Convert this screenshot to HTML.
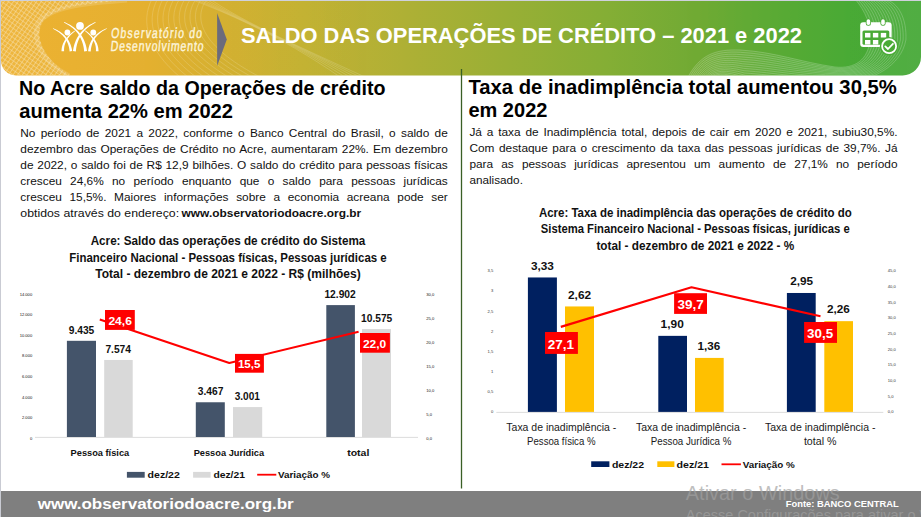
<!DOCTYPE html>
<html><head><meta charset="utf-8"><title>Saldo das operações de crédito</title>
<style>
html,body{margin:0;padding:0;background:#fff;overflow:hidden;}
body{width:921px;height:517px;position:relative;}
svg{position:absolute;left:0;top:0;display:block;}
text{font-family:"Liberation Sans",sans-serif;}
</style></head><body>
<svg width="921" height="517" viewBox="0 0 921 517">
<defs>
<linearGradient id="hg" x1="0" y1="0" x2="921" y2="0" gradientUnits="userSpaceOnUse">
<stop offset="0" stop-color="#eeb232"/>
<stop offset="0.16" stop-color="#e4b030"/>
<stop offset="0.33" stop-color="#c3b234"/>
<stop offset="0.44" stop-color="#aeb035"/>
<stop offset="0.66" stop-color="#84ae35"/>
<stop offset="0.76" stop-color="#70aa34"/>
<stop offset="0.81" stop-color="#62ab35"/>
<stop offset="0.86" stop-color="#56ab35"/>
<stop offset="0.92" stop-color="#4aaa36"/>
<stop offset="1" stop-color="#46a837"/>
</linearGradient>
<clipPath id="bclip"><path d="M1,1 H921 V57 A18.5,18.5 0 0 1 902.5,75.5 H16 A15,15 0 0 1 1,60.5 Z"/></clipPath>
<pattern id="mesh" width="3.8" height="3.8" patternUnits="userSpaceOnUse" patternTransform="rotate(35)">
<rect width="4" height="4" fill="none"/>
<path d="M0,0 H3.8 M0,0 V3.8" stroke="#fff" stroke-width="1.1" opacity="0.55"/>
</pattern>
</defs>
<rect x="0.00" y="0.00" width="921.00" height="1.00" fill="#cfd1dc"/>
<rect x="0.00" y="0.00" width="1.00" height="517.00" fill="#c9cbd3"/>
<g clip-path="url(#bclip)">
<rect x="1.00" y="1.00" width="920.00" height="75.00" fill="url(#hg)"/>
<path d="M0,0 H130 C90,3 58,6 44,20 C32,36 45,62 72,76 H0 Z" fill="url(#mesh)"/>
<path d="M0,0 H130 C90,3 58,6 44,20 C32,36 45,62 72,76 H0 Z" fill="#fff" opacity="0.06"/>
<path d="M130,0 C90,3 58,6 44,20 C32,36 45,62 72,76" fill="none" stroke="#fff" stroke-width="5" opacity="0.15" transform="translate(-3,0)"/>
<g fill="none" stroke="#fff" stroke-width="0.5" opacity="0.3"><path d="M152.0,-1 C140.0,22 148.0,50 180.0,77"/><path d="M157.5,-1 C145.0,22 154.0,50 188.0,77"/><path d="M163.0,-1 C150.0,22 160.0,50 196.0,77"/><path d="M168.5,-1 C155.0,22 166.0,50 204.0,77"/><path d="M174.0,-1 C160.0,22 172.0,50 212.0,77"/><path d="M179.5,-1 C165.0,22 178.0,50 220.0,77"/><path d="M185.0,-1 C170.0,22 184.0,50 228.0,77"/><path d="M190.5,-1 C175.0,22 190.0,50 236.0,77"/><path d="M196.0,-1 C180.0,22 196.0,50 244.0,77"/><path d="M201.5,-1 C185.0,22 202.0,50 252.0,77"/><path d="M207.0,-1 C190.0,22 208.0,50 260.0,77"/><path d="M190.0,-1 C220.0,10.0 280.0,35.0 340.0,77"/><path d="M194.0,-1 C224.0,12.0 283.0,37.0 345.0,77"/><path d="M198.0,-1 C228.0,14.0 286.0,39.0 350.0,77"/><path d="M202.0,-1 C232.0,16.0 289.0,41.0 355.0,77"/><path d="M206.0,-1 C236.0,18.0 292.0,43.0 360.0,77"/><path d="M210.0,-1 C240.0,20.0 295.0,45.0 365.0,77"/></g>
<path d="M688,77 C700,55 715,49 740,50 C775,52 800,62 835,67 C855,69 868,60 870,40 C871,25 866,12 855,-1 H922 V77 Z" fill="#fff" opacity="0.06"/>
<g fill="none" stroke="#fff" stroke-width="0.5" opacity="0.4"><path d="M688.0,77 C700.0,55.0 715.0,49.0 740.0,50.0 C775.0,52.0 800.0,62.0 835.0,67.0 C855.0,69.0 868.0,60.0 870.0,40.0 C871.0,25.0 866.0,12.0 855.0,-1"/><path d="M689.8,77 C701.4,56.4 715.9,50.8 740.5,52.3 C775.0,54.3 800.0,63.8 835.7,68.2 C856.4,69.9 870.5,60.5 872.8,40.0 C873.8,24.5 868.5,11.3 857.3,-1"/><path d="M691.7,77 C702.8,57.8 716.8,52.7 740.9,54.6 C775.0,56.6 800.0,65.7 836.4,69.3 C857.8,70.8 873.1,60.9 875.5,40.0 C876.5,24.1 871.1,10.6 859.6,-1"/><path d="M693.5,77 C704.1,59.1 717.8,54.5 741.4,56.9 C775.0,58.9 800.0,67.5 837.1,70.5 C859.1,71.8 875.6,61.4 878.3,40.0 C879.3,23.6 873.6,9.9 861.9,-1"/><path d="M695.4,77 C705.5,60.5 718.7,56.4 741.8,59.2 C775.0,61.2 800.0,69.4 837.8,71.6 C860.5,72.7 878.1,61.8 881.0,40.0 C882.0,23.2 876.1,9.2 864.2,-1"/><path d="M697.2,77 C706.9,61.9 719.6,58.2 742.3,61.5 C775.0,63.5 800.0,71.2 838.5,72.8 C861.9,73.6 880.6,62.3 883.8,40.0 C884.8,22.7 878.6,8.6 866.5,-1"/><path d="M699.0,77 C708.3,63.3 720.5,60.0 742.8,63.8 C775.0,65.8 800.0,73.0 839.1,73.9 C863.3,74.5 883.2,62.8 886.6,40.0 C887.6,22.2 881.2,7.9 868.8,-1"/><path d="M700.9,77 C709.7,64.7 721.4,61.9 743.2,66.1 C775.0,68.1 800.0,74.9 839.8,75.0 C864.7,75.4 885.7,63.2 889.3,40.0 C890.3,21.8 883.7,7.2 871.1,-1"/><path d="M702.7,77 C711.0,66.0 722.4,63.7 743.7,68.4 C775.0,70.4 800.0,76.7 840.5,76.2 C866.0,76.4 888.2,63.7 892.1,40.0 C893.1,21.3 886.2,6.5 873.4,-1"/><path d="M704.6,77 C712.4,67.4 723.3,65.6 744.1,70.7 C775.0,72.7 800.0,78.6 841.2,77.3 C867.4,77.3 890.8,64.1 894.8,40.0 C895.8,20.9 888.8,5.8 875.7,-1"/><path d="M706.4,77 C713.8,68.8 724.2,67.4 744.6,73.0 C775.0,75.0 800.0,80.4 841.9,78.5 C868.8,78.2 893.3,64.6 897.6,40.0 C898.6,20.4 891.3,5.1 878.0,-1"/><path d="M708.2,77 C715.2,70.2 725.1,69.2 745.1,75.3 C775.0,77.3 800.0,82.2 842.6,79.7 C870.2,79.1 895.8,65.1 900.4,40.0 C901.4,19.9 893.8,4.4 880.3,-1"/><path d="M710.1,77 C716.6,71.6 726.0,71.1 745.5,77.6 C775.0,79.6 800.0,84.1 843.3,80.8 C871.6,80.0 898.4,65.5 903.1,40.0 C904.1,19.5 896.4,3.7 882.6,-1"/><path d="M711.9,77 C717.9,72.9 727.0,72.9 746.0,79.9 C775.0,81.9 800.0,85.9 844.0,82.0 C872.9,81.0 900.9,66.0 905.9,40.0 C906.9,19.0 898.9,3.0 884.9,-1"/></g>
</g>
<polygon points="217.1,13 226.8,39.4 217.1,65.9" fill="#6b6b7c"/>
<g fill="#fff"><circle cx="80" cy="25.9" r="3.9"/><circle cx="67.4" cy="32.5" r="2.9"/><circle cx="93.3" cy="32.5" r="2.9"/></g>
<g fill="#fff"><path d="M52.87,28.77 L53.97,29.32 L55.04,29.90 L56.09,30.50 L57.12,31.13 L58.12,31.78 L59.09,32.47 L60.03,33.19 L60.93,33.95 L61.80,34.74 L62.64,35.56 L63.44,36.42 L64.20,37.31 L64.91,38.24 L65.58,39.22 L66.21,40.23 L66.79,41.29 L67.33,42.38 L67.81,43.53 L68.25,44.72 L68.63,45.96 L68.96,47.25 L69.23,48.59 L69.45,49.99 L69.61,51.48 L72.19,51.12 L71.94,49.59 L71.62,48.09 L71.23,46.66 L70.79,45.28 L70.30,43.96 L69.74,42.69 L69.14,41.49 L68.48,40.34 L67.78,39.24 L67.03,38.20 L66.24,37.21 L65.40,36.26 L64.54,35.37 L63.63,34.52 L62.69,33.72 L61.73,32.96 L60.73,32.24 L59.71,31.57 L58.66,30.93 L57.59,30.32 L56.50,29.75 L55.39,29.21 L54.26,28.70 L53.13,28.23Z"/><path d="M75.33,30.25 L74.32,30.92 L73.33,31.60 L72.38,32.30 L71.46,33.02 L70.57,33.76 L69.71,34.51 L68.89,35.28 L68.11,36.07 L67.37,36.88 L66.66,37.71 L65.99,38.55 L65.36,39.42 L64.78,40.31 L64.23,41.21 L63.74,42.14 L63.28,43.08 L62.88,44.05 L62.52,45.03 L62.22,46.04 L61.97,47.06 L61.77,48.10 L61.62,49.17 L61.53,50.25 L61.50,51.31 L64.10,51.29 L64.05,50.29 L64.05,49.34 L64.10,48.39 L64.20,47.46 L64.34,46.53 L64.54,45.61 L64.79,44.70 L65.08,43.80 L65.42,42.91 L65.80,42.02 L66.24,41.15 L66.71,40.28 L67.23,39.42 L67.80,38.58 L68.41,37.74 L69.06,36.91 L69.75,36.10 L70.48,35.30 L71.26,34.51 L72.07,33.73 L72.91,32.96 L73.80,32.21 L74.72,31.47 L75.67,30.75Z"/><path d="M63.88,22.57 L65.22,23.23 L66.53,23.92 L67.80,24.66 L69.05,25.44 L70.27,26.27 L71.45,27.14 L72.59,28.06 L73.69,29.03 L74.75,30.04 L75.76,31.10 L76.73,32.21 L77.64,33.37 L78.51,34.58 L79.32,35.84 L80.08,37.16 L80.79,38.52 L81.43,39.94 L82.02,41.41 L82.54,42.94 L83.00,44.52 L83.39,46.16 L83.72,47.87 L83.98,49.63 L84.16,51.48 L87.04,51.12 L86.75,49.21 L86.38,47.34 L85.93,45.54 L85.42,43.81 L84.83,42.14 L84.17,40.54 L83.46,39.00 L82.68,37.53 L81.84,36.12 L80.95,34.78 L80.00,33.50 L79.01,32.28 L77.96,31.12 L76.88,30.02 L75.75,28.97 L74.58,27.99 L73.37,27.06 L72.13,26.19 L70.86,25.37 L69.56,24.60 L68.24,23.88 L66.89,23.21 L65.51,22.59 L64.12,22.03Z"/><path d="M95.47,22.03 L94.13,22.60 L92.80,23.22 L91.49,23.88 L90.20,24.60 L88.93,25.37 L87.69,26.19 L86.48,27.06 L85.30,27.99 L84.15,28.98 L83.04,30.02 L81.97,31.12 L80.94,32.28 L79.96,33.50 L79.02,34.78 L78.14,36.13 L77.31,37.53 L76.53,39.01 L75.82,40.54 L75.17,42.14 L74.58,43.81 L74.07,45.54 L73.62,47.35 L73.25,49.21 L72.96,51.12 L75.84,51.48 L76.02,49.63 L76.28,47.86 L76.60,46.16 L77.00,44.52 L77.45,42.94 L77.98,41.41 L78.56,39.94 L79.20,38.52 L79.90,37.15 L80.65,35.84 L81.45,34.58 L82.31,33.37 L83.21,32.21 L84.17,31.10 L85.16,30.04 L86.20,29.02 L87.28,28.05 L88.39,27.13 L89.54,26.26 L90.72,25.43 L91.93,24.65 L93.17,23.92 L94.44,23.22 L95.73,22.57Z"/><path d="M106.67,28.23 L105.56,28.71 L104.45,29.21 L103.36,29.75 L102.29,30.32 L101.24,30.93 L100.21,31.57 L99.20,32.25 L98.22,32.97 L97.27,33.73 L96.35,34.53 L95.46,35.38 L94.60,36.27 L93.79,37.21 L93.01,38.21 L92.28,39.25 L91.60,40.35 L90.96,41.50 L90.38,42.71 L89.85,43.97 L89.37,45.30 L88.96,46.68 L88.61,48.12 L88.32,49.62 L88.11,51.15 L90.69,51.45 L90.82,49.96 L91.00,48.57 L91.25,47.23 L91.55,45.94 L91.90,44.70 L92.32,43.51 L92.78,42.37 L93.29,41.27 L93.86,40.22 L94.47,39.21 L95.12,38.24 L95.82,37.31 L96.56,36.41 L97.35,35.55 L98.17,34.73 L99.02,33.95 L99.91,33.19 L100.84,32.47 L101.79,31.78 L102.77,31.12 L103.78,30.49 L104.81,29.89 L105.86,29.32 L106.93,28.77Z"/><path d="M84.62,30.74 L85.54,31.47 L86.43,32.21 L87.28,32.96 L88.10,33.72 L88.89,34.50 L89.64,35.29 L90.35,36.09 L91.02,36.91 L91.66,37.73 L92.26,38.57 L92.81,39.42 L93.32,40.27 L93.79,41.14 L94.22,42.02 L94.60,42.90 L94.93,43.80 L95.22,44.70 L95.46,45.61 L95.66,46.53 L95.80,47.46 L95.90,48.39 L95.95,49.34 L95.95,50.29 L95.90,51.29 L98.50,51.31 L98.47,50.25 L98.38,49.17 L98.24,48.11 L98.04,47.06 L97.78,46.04 L97.48,45.03 L97.13,44.05 L96.73,43.08 L96.28,42.14 L95.79,41.22 L95.25,40.31 L94.68,39.43 L94.06,38.56 L93.41,37.71 L92.71,36.89 L91.98,36.08 L91.22,35.29 L90.42,34.52 L89.59,33.76 L88.72,33.03 L87.83,32.31 L86.91,31.61 L85.95,30.92 L84.98,30.26Z"/></g>
<g transform="translate(110.80,37.70) skewX(-6) scale(0.72,1) translate(-110.80,-37.70)">
<text x="110.80" y="37.70" font-size="14.6" fill="#fdf5dc" stroke="#fdf5dc" stroke-width="0.4" textLength="126.11" lengthAdjust="spacing">Observatório do</text>
</g>
<g transform="translate(110.20,50.80) skewX(-6) scale(0.72,1) translate(-110.20,-50.80)">
<text x="110.20" y="50.80" font-size="14.6" fill="#fdf5dc" stroke="#fdf5dc" stroke-width="0.4" textLength="129.17" lengthAdjust="spacing">Desenvolvimento</text>
</g>
<text x="241.00" y="43.40" font-size="22.50" fill="#fff" font-weight="bold" textLength="561.00" lengthAdjust="spacingAndGlyphs">SALDO DAS OPERAÇÕES DE CRÉDITO – 2021 e 2022</text>
<g><rect x="860.2" y="22.3" width="31.4" height="24.7" rx="3" fill="#fff"/><rect x="862.5" y="30.5" width="26.8" height="14.2" rx="1.5" fill="#4aaa36"/><rect x="865.8" y="18.4" width="5.2" height="7.4" rx="2.3" fill="#4aaa36"/><rect x="880.4" y="18.4" width="5.2" height="7.4" rx="2.3" fill="#4aaa36"/><rect x="866.6" y="19.2" width="3.6" height="5.8" rx="1.7" fill="#fff"/><rect x="881.2" y="19.2" width="3.6" height="5.8" rx="1.7" fill="#fff"/><g fill="#fff"><rect x="865" y="32.9" width="5.4" height="4.6"/><rect x="872.9" y="32.9" width="5.4" height="4.6"/><rect x="880.8" y="32.9" width="5.4" height="4.6"/><rect x="865" y="40" width="5.4" height="4.5"/><rect x="872.9" y="40" width="5.4" height="4.5"/></g><circle cx="889.1" cy="46.2" r="9.2" fill="#4aaa36"/><circle cx="889.1" cy="46.2" r="7" fill="none" stroke="#fff" stroke-width="1.8"/><path d="M885.3,46.4 L888,49 L892.9,43.8" fill="none" stroke="#fff" stroke-width="1.8" stroke-linecap="round" stroke-linejoin="round"/></g>
<rect x="460.85" y="69.00" width="1.30" height="419.50" fill="#3a5f25"/>
<text x="19.10" y="94.60" font-size="19.60" fill="#000" font-weight="bold" textLength="366.40" lengthAdjust="spacingAndGlyphs">No Acre saldo da Operações de crédito</text>
<text x="19.30" y="117.90" font-size="19.60" fill="#000" font-weight="bold" textLength="213.70" lengthAdjust="spacingAndGlyphs">aumenta 22% em 2022</text>
<g transform="translate(20.30,137.00) scale(1.060,1)"><text x="0" y="0" font-size="11.20" fill="#111" word-spacing="1.856" textLength="403.30" lengthAdjust="spacingAndGlyphs">No período de 2021 a 2022, conforme o Banco Central do Brasil, o saldo de</text></g>
<g transform="translate(20.30,152.98) scale(1.060,1)"><text x="0" y="0" font-size="11.20" fill="#111" word-spacing="0.798" textLength="403.30" lengthAdjust="spacingAndGlyphs">dezembro das Operações de Crédito no Acre, aumentaram 22%. Em dezembro</text></g>
<g transform="translate(20.30,168.96) scale(1.060,1)"><text x="0" y="0" font-size="11.20" fill="#111" word-spacing="0.445" textLength="403.30" lengthAdjust="spacingAndGlyphs">de 2022, o saldo foi de R$ 12,9 bilhões. O saldo do crédito para pessoas físicas</text></g>
<g transform="translate(20.30,184.94) scale(1.060,1)"><text x="0" y="0" font-size="11.20" fill="#111" word-spacing="4.651" textLength="403.30" lengthAdjust="spacingAndGlyphs">cresceu 24,6% no período enquanto que o saldo para pessoas jurídicas</text></g>
<g transform="translate(20.30,200.92) scale(1.060,1)"><text x="0" y="0" font-size="11.20" fill="#111" word-spacing="4.067" textLength="403.30" lengthAdjust="spacingAndGlyphs">cresceu 15,5%. Maiores informações sobre a economia acreana pode ser</text></g>
<g transform="translate(20.30,216.90) scale(1.060,1)"><text x="0" y="0" font-size="11.20" fill="#111" textLength="149.81" lengthAdjust="spacingAndGlyphs">obtidos através do endereço:</text></g>
<text x="181.60" y="216.90" font-size="11.40" fill="#111" font-weight="bold" textLength="179.60" lengthAdjust="spacingAndGlyphs">www.observatoriodoacre.org.br</text>
<text x="228.00" y="244.60" font-size="12.30" fill="#111" font-weight="bold" text-anchor="middle" textLength="274.70" lengthAdjust="spacingAndGlyphs">Acre: Saldo das operações de crédito do Sistema</text>
<text x="228.00" y="261.60" font-size="12.30" fill="#111" font-weight="bold" text-anchor="middle" textLength="317.40" lengthAdjust="spacingAndGlyphs">Financeiro Nacional - Pessoas físicas, Pessoas jurídicas e</text>
<text x="228.00" y="278.20" font-size="12.30" fill="#111" font-weight="bold" text-anchor="middle" textLength="265.40" lengthAdjust="spacingAndGlyphs">Total - dezembro de 2021 e 2022 - R$ (milhões)</text>
<text x="32.20" y="440.00" font-size="4.10" fill="#111" text-anchor="end">0</text>
<text x="32.20" y="419.37" font-size="4.10" fill="#111" text-anchor="end">2.000</text>
<text x="32.20" y="398.74" font-size="4.10" fill="#111" text-anchor="end">4.000</text>
<text x="32.20" y="378.11" font-size="4.10" fill="#111" text-anchor="end">6.000</text>
<text x="32.20" y="357.49" font-size="4.10" fill="#111" text-anchor="end">8.000</text>
<text x="32.20" y="336.86" font-size="4.10" fill="#111" text-anchor="end">10.000</text>
<text x="32.20" y="316.23" font-size="4.10" fill="#111" text-anchor="end">12.000</text>
<text x="32.20" y="295.60" font-size="4.10" fill="#111" text-anchor="end">14.000</text>
<text x="426.30" y="439.80" font-size="4.10" fill="#111">0,0</text>
<text x="426.30" y="415.90" font-size="4.10" fill="#111">5,0</text>
<text x="426.30" y="392.00" font-size="4.10" fill="#111">10,0</text>
<text x="426.30" y="368.10" font-size="4.10" fill="#111">15,0</text>
<text x="426.30" y="344.20" font-size="4.10" fill="#111">20,0</text>
<text x="426.30" y="320.30" font-size="4.10" fill="#111">25,0</text>
<text x="426.30" y="296.40" font-size="4.10" fill="#111">30,0</text>
<rect x="35.00" y="436.90" width="383.00" height="0.90" fill="#d9d9d9"/>
<rect x="66.90" y="340.81" width="29.10" height="96.19" fill="#44546a"/>
<rect x="104.20" y="359.97" width="28.50" height="77.03" fill="#d9d9d9"/>
<rect x="195.80" y="402.27" width="29.00" height="34.73" fill="#44546a"/>
<rect x="233.00" y="407.07" width="29.20" height="29.93" fill="#d9d9d9"/>
<rect x="326.30" y="305.10" width="28.60" height="131.90" fill="#44546a"/>
<rect x="362.00" y="329.06" width="29.00" height="107.94" fill="#d9d9d9"/>
<text x="68.70" y="334.00" font-size="10.00" fill="#111" font-weight="bold" textLength="25.60" lengthAdjust="spacingAndGlyphs">9.435</text>
<text x="105.40" y="353.10" font-size="10.00" fill="#111" font-weight="bold" textLength="25.60" lengthAdjust="spacingAndGlyphs">7.574</text>
<text x="197.80" y="394.80" font-size="10.00" fill="#111" font-weight="bold" textLength="25.60" lengthAdjust="spacingAndGlyphs">3.467</text>
<text x="234.70" y="399.80" font-size="10.00" fill="#111" font-weight="bold" textLength="25.20" lengthAdjust="spacingAndGlyphs">3.001</text>
<text x="324.40" y="297.90" font-size="10.00" fill="#111" font-weight="bold" textLength="31.40" lengthAdjust="spacingAndGlyphs">12.902</text>
<text x="361.10" y="321.80" font-size="10.00" fill="#111" font-weight="bold" textLength="31.20" lengthAdjust="spacingAndGlyphs">10.575</text>
<polyline points="99.8,319.41 229.3,362.91 358.6,331.84" fill="none" stroke="#ff0000" stroke-width="2.1" stroke-linejoin="round"/>
<rect x="105.00" y="310.00" width="29.80" height="19.90" fill="#ff0000"/>
<text x="108.40" y="325.00" font-size="11.50" fill="#fff" font-weight="bold" textLength="23.50" lengthAdjust="spacingAndGlyphs">24,6</text>
<rect x="235.00" y="353.90" width="28.90" height="18.80" fill="#ff0000"/>
<text x="237.90" y="367.90" font-size="11.50" fill="#fff" font-weight="bold" textLength="22.60" lengthAdjust="spacingAndGlyphs">15,5</text>
<rect x="360.00" y="333.00" width="29.90" height="19.70" fill="#ff0000"/>
<text x="362.90" y="347.90" font-size="11.50" fill="#fff" font-weight="bold" textLength="23.30" lengthAdjust="spacingAndGlyphs">22,0</text>
<text x="99.90" y="455.70" font-size="9.60" fill="#111" font-weight="bold" text-anchor="middle" textLength="58.60" lengthAdjust="spacingAndGlyphs">Pessoa física</text>
<text x="228.90" y="455.70" font-size="9.60" fill="#111" font-weight="bold" text-anchor="middle" textLength="70.50" lengthAdjust="spacingAndGlyphs">Pessoa Jurídica</text>
<text x="358.30" y="455.70" font-size="9.60" fill="#111" font-weight="bold" text-anchor="middle" textLength="22.20" lengthAdjust="spacingAndGlyphs">total</text>
<rect x="126.90" y="471.90" width="17.80" height="5.80" fill="#44546a"/>
<text x="147.60" y="477.70" font-size="9.60" fill="#111" font-weight="bold" textLength="32.20" lengthAdjust="spacingAndGlyphs">dez/22</text>
<rect x="193.10" y="471.90" width="17.50" height="5.80" fill="#d9d9d9"/>
<text x="213.40" y="477.70" font-size="9.60" fill="#111" font-weight="bold" textLength="31.60" lengthAdjust="spacingAndGlyphs">dez/21</text>
<rect x="257.20" y="473.80" width="19.10" height="1.80" fill="#ff0000"/>
<text x="278.00" y="477.70" font-size="9.60" fill="#111" font-weight="bold" textLength="52.00" lengthAdjust="spacingAndGlyphs">Variação %</text>
<text x="468.40" y="93.80" font-size="19.60" fill="#000" font-weight="bold" textLength="428.40" lengthAdjust="spacingAndGlyphs">Taxa de inadimplência total aumentou 30,5%</text>
<text x="468.40" y="117.10" font-size="19.60" fill="#000" font-weight="bold" textLength="79.00" lengthAdjust="spacingAndGlyphs">em 2022</text>
<g transform="translate(469.40,136.00) scale(1.060,1)"><text x="0" y="0" font-size="11.20" fill="#111" word-spacing="1.419" textLength="403.87" lengthAdjust="spacingAndGlyphs">Já a taxa de Inadimplência total, depois de cair em 2020 e 2021, subiu30,5%.</text></g>
<g transform="translate(469.40,151.97) scale(1.060,1)"><text x="0" y="0" font-size="11.20" fill="#111" word-spacing="1.125" textLength="403.87" lengthAdjust="spacingAndGlyphs">Com destaque para o crescimento da taxa das pessoas jurídicas de 39,7%. Já</text></g>
<g transform="translate(469.40,167.94) scale(1.060,1)"><text x="0" y="0" font-size="11.20" fill="#111" word-spacing="4.523" textLength="403.87" lengthAdjust="spacingAndGlyphs">para as pessoas jurídicas apresentou um aumento de 27,1% no período</text></g>
<g transform="translate(469.40,183.90) scale(1.060,1)"><text x="0" y="0" font-size="11.20" fill="#111" textLength="50.47" lengthAdjust="spacingAndGlyphs">analisado.</text></g>
<text x="695.30" y="217.00" font-size="12.30" fill="#111" font-weight="bold" text-anchor="middle" textLength="312.80" lengthAdjust="spacingAndGlyphs">Acre: Taxa de inadimplência das operações de crédito do</text>
<text x="695.30" y="232.90" font-size="12.30" fill="#111" font-weight="bold" text-anchor="middle" textLength="308.90" lengthAdjust="spacingAndGlyphs">Sistema Financeiro Nacional - Pessoas físicas, jurídicas e</text>
<text x="695.30" y="249.80" font-size="12.30" fill="#111" font-weight="bold" text-anchor="middle" textLength="197.70" lengthAdjust="spacingAndGlyphs">total - dezembro de 2021 e 2022 - %</text>
<text x="493.20" y="413.40" font-size="4.10" fill="#333" text-anchor="end">0</text>
<text x="493.20" y="393.23" font-size="4.10" fill="#333" text-anchor="end">0,5</text>
<text x="493.20" y="373.06" font-size="4.10" fill="#333" text-anchor="end">1</text>
<text x="493.20" y="352.89" font-size="4.10" fill="#333" text-anchor="end">1,5</text>
<text x="493.20" y="332.71" font-size="4.10" fill="#333" text-anchor="end">2</text>
<text x="493.20" y="312.54" font-size="4.10" fill="#333" text-anchor="end">2,5</text>
<text x="493.20" y="292.37" font-size="4.10" fill="#333" text-anchor="end">3</text>
<text x="493.20" y="272.20" font-size="4.10" fill="#333" text-anchor="end">3,5</text>
<text x="887.80" y="413.40" font-size="4.10" fill="#333">0,0</text>
<text x="887.80" y="397.71" font-size="4.10" fill="#333">5,0</text>
<text x="887.80" y="382.02" font-size="4.10" fill="#333">10,0</text>
<text x="887.80" y="366.33" font-size="4.10" fill="#333">15,0</text>
<text x="887.80" y="350.64" font-size="4.10" fill="#333">20,0</text>
<text x="887.80" y="334.96" font-size="4.10" fill="#333">25,0</text>
<text x="887.80" y="319.27" font-size="4.10" fill="#333">30,0</text>
<text x="887.80" y="303.58" font-size="4.10" fill="#333">35,0</text>
<text x="887.80" y="287.89" font-size="4.10" fill="#333">40,0</text>
<text x="887.80" y="272.20" font-size="4.10" fill="#333">45,0</text>
<rect x="496.30" y="411.90" width="387.00" height="0.90" fill="#d9d9d9"/>
<rect x="527.90" y="277.46" width="29.00" height="134.44" fill="#002060"/>
<rect x="565.00" y="306.45" width="29.00" height="105.45" fill="#ffc000"/>
<rect x="658.30" y="335.86" width="28.70" height="76.04" fill="#002060"/>
<rect x="695.00" y="357.91" width="28.70" height="53.99" fill="#ffc000"/>
<rect x="786.90" y="292.98" width="28.80" height="118.92" fill="#002060"/>
<rect x="824.30" y="321.16" width="28.70" height="90.74" fill="#ffc000"/>
<text x="530.90" y="269.80" font-size="10.90" fill="#111" font-weight="bold" textLength="23.00" lengthAdjust="spacingAndGlyphs">3,33</text>
<text x="568.00" y="298.80" font-size="10.90" fill="#111" font-weight="bold" textLength="23.10" lengthAdjust="spacingAndGlyphs">2,62</text>
<text x="660.60" y="327.90" font-size="10.90" fill="#111" font-weight="bold" textLength="23.20" lengthAdjust="spacingAndGlyphs">1,90</text>
<text x="697.60" y="349.70" font-size="10.90" fill="#111" font-weight="bold" textLength="22.80" lengthAdjust="spacingAndGlyphs">1,36</text>
<text x="790.20" y="285.00" font-size="10.90" fill="#111" font-weight="bold" textLength="22.90" lengthAdjust="spacingAndGlyphs">2,95</text>
<text x="827.00" y="312.90" font-size="10.90" fill="#111" font-weight="bold" textLength="22.90" lengthAdjust="spacingAndGlyphs">2,26</text>
<polyline points="560.8,326.87 691.5,287.33 820.5,316.20" fill="none" stroke="#ff0000" stroke-width="2.1" stroke-linejoin="round"/>
<rect x="545.00" y="332.00" width="32.90" height="21.90" fill="#ff0000"/>
<text x="547.70" y="348.80" font-size="12.80" fill="#fff" font-weight="bold" textLength="26.30" lengthAdjust="spacingAndGlyphs">27,1</text>
<rect x="674.10" y="293.20" width="32.90" height="20.70" fill="#ff0000"/>
<text x="677.40" y="308.80" font-size="12.80" fill="#fff" font-weight="bold" textLength="26.30" lengthAdjust="spacingAndGlyphs">39,7</text>
<rect x="804.10" y="322.00" width="32.90" height="20.90" fill="#ff0000"/>
<text x="807.00" y="337.50" font-size="12.80" fill="#fff" font-weight="bold" textLength="26.10" lengthAdjust="spacingAndGlyphs">30,5</text>
<text x="561.30" y="431.00" font-size="10.40" fill="#1a1a1a" text-anchor="middle" textLength="109.90" lengthAdjust="spacingAndGlyphs">Taxa de inadimplência -</text>
<text x="561.30" y="444.90" font-size="10.40" fill="#1a1a1a" text-anchor="middle" textLength="68.40" lengthAdjust="spacingAndGlyphs">Pessoa física %</text>
<text x="691.10" y="431.00" font-size="10.40" fill="#1a1a1a" text-anchor="middle" textLength="110.20" lengthAdjust="spacingAndGlyphs">Taxa de inadimplência -</text>
<text x="691.10" y="444.90" font-size="10.40" fill="#1a1a1a" text-anchor="middle" textLength="80.60" lengthAdjust="spacingAndGlyphs">Pessoa Jurídica %</text>
<text x="820.20" y="431.00" font-size="10.40" fill="#1a1a1a" text-anchor="middle" textLength="110.40" lengthAdjust="spacingAndGlyphs">Taxa de inadimplência -</text>
<text x="820.20" y="444.90" font-size="10.40" fill="#1a1a1a" text-anchor="middle" textLength="32.60" lengthAdjust="spacingAndGlyphs">total %</text>
<rect x="591.20" y="461.30" width="18.20" height="5.70" fill="#002060"/>
<text x="611.90" y="468.10" font-size="9.60" fill="#111" font-weight="bold" textLength="32.20" lengthAdjust="spacingAndGlyphs">dez/22</text>
<rect x="657.30" y="461.30" width="17.10" height="5.70" fill="#ffc000"/>
<text x="676.50" y="468.10" font-size="9.60" fill="#111" font-weight="bold" textLength="32.50" lengthAdjust="spacingAndGlyphs">dez/21</text>
<rect x="721.50" y="463.40" width="19.40" height="1.80" fill="#ff0000"/>
<text x="742.80" y="468.10" font-size="9.60" fill="#111" font-weight="bold" textLength="52.00" lengthAdjust="spacingAndGlyphs">Variação %</text>
<rect x="1.00" y="491.00" width="920.00" height="26.00" fill="#7f7f7f"/>
<text x="37.80" y="509.20" font-size="14.70" fill="#fff" font-weight="bold" textLength="255.90" lengthAdjust="spacingAndGlyphs">www.observatoriodoacre.org.br</text>
<text x="685.80" y="499.50" font-size="19.80" fill="#a1a1a1" textLength="154.00" lengthAdjust="spacingAndGlyphs" opacity="0.68">Ativar o Windows</text>
<text x="685.80" y="520.30" font-size="14.50" fill="#a1a1a1" textLength="296.60" lengthAdjust="spacingAndGlyphs" opacity="0.68">Acesse Configurações para ativar o Windows.</text>
<text x="785.80" y="507.00" font-size="9.60" fill="#fff" font-weight="bold" textLength="112.90" lengthAdjust="spacingAndGlyphs">Fonte: BANCO CENTRAL</text>
</svg>
</body></html>
